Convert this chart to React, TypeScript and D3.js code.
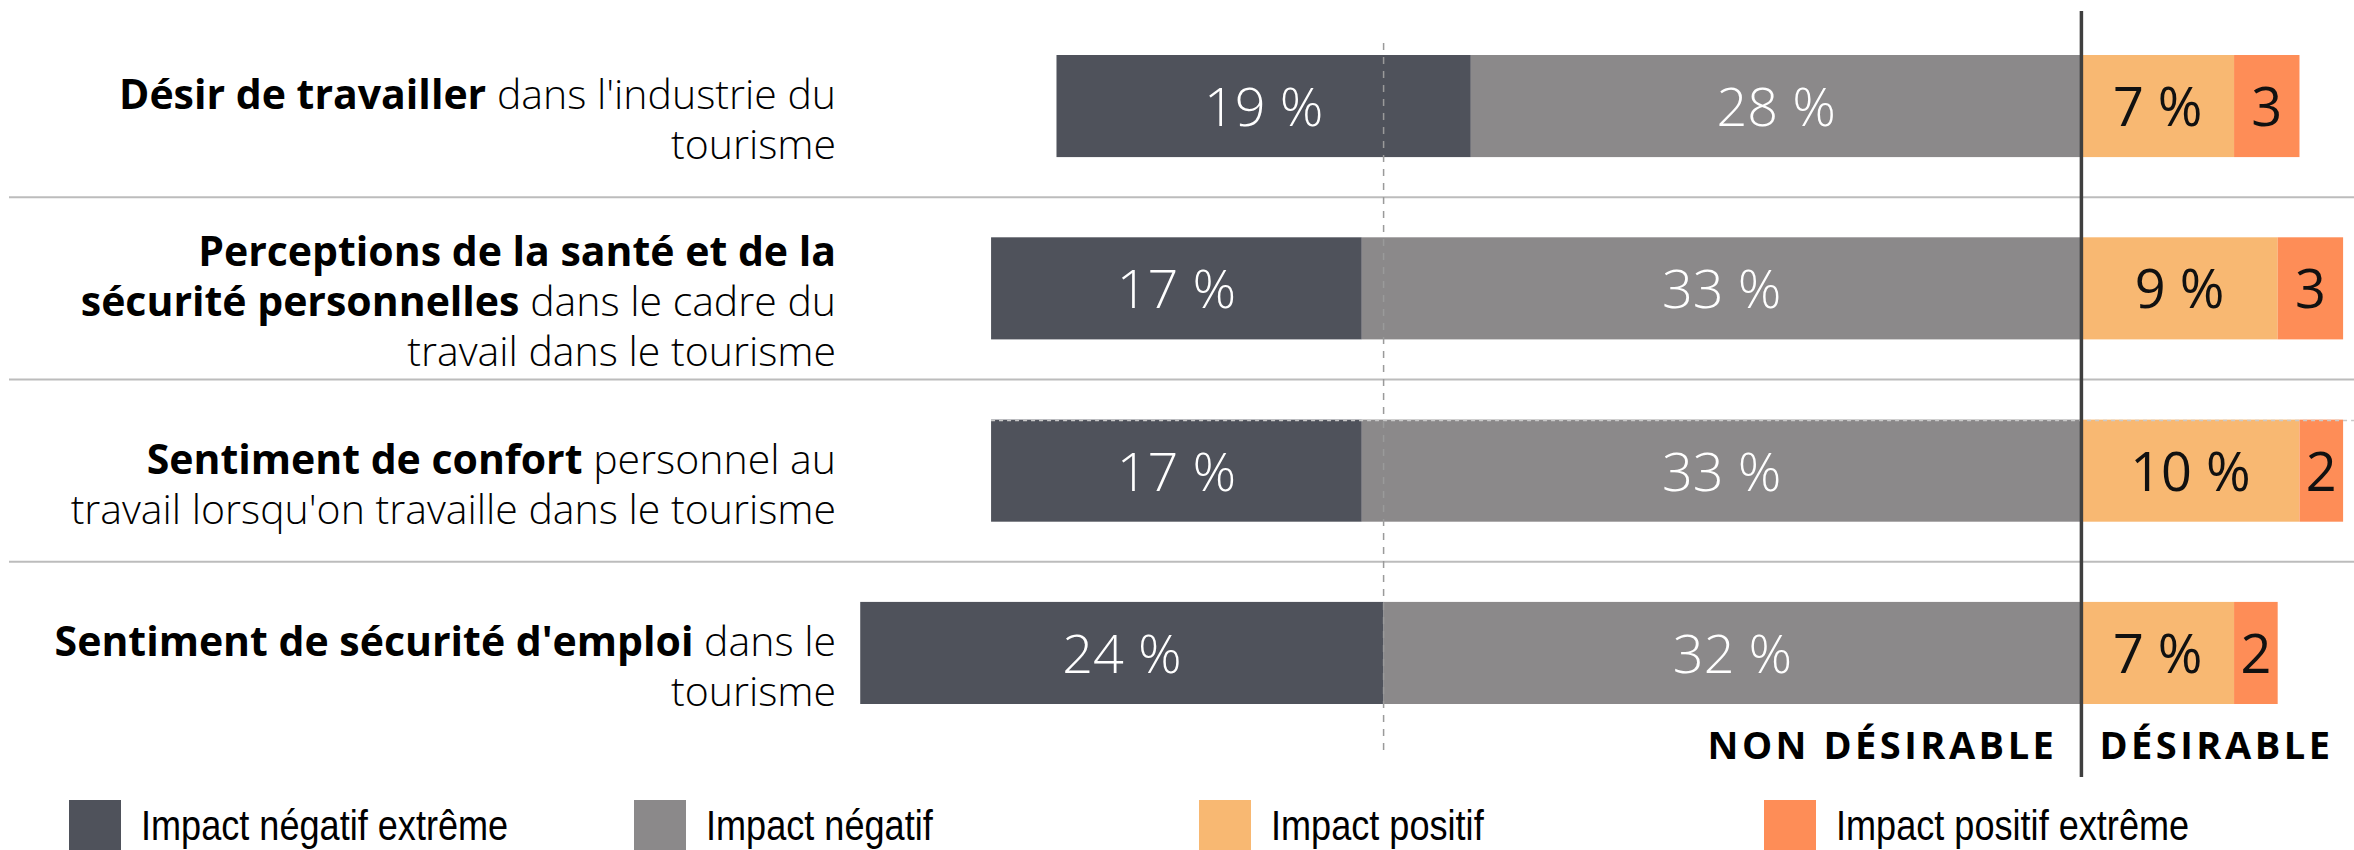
import React from "react";
import * as d3 from "d3";

// ---------- data ----------
const categories = ["desir", "sante", "confort", "emploi"];
const extremeNegative = [19, 17, 17, 24];
const negative = [28, 33, 33, 32];
const positive = [7, 9, 10, 7];
const extremePositive = [3, 3, 2, 2];
const seriesNames = [
  "Impact négatif extrême",
  "Impact négatif",
  "Impact positif",
  "Impact positif extrême",
];
// label lines: each line is a list of [text, bold]
const labelLines: [string, boolean][][][] = [
  [
    [["Désir de travailler", true], [" dans l'industrie du", false]],
    [["tourisme", false]],
  ],
  [
    [["Perceptions de la santé et de la", true]],
    [["sécurité personnelles", true], [" dans le cadre du", false]],
    [["travail dans le tourisme", false]],
  ],
  [
    [["Sentiment de confort", true], [" personnel au", false]],
    [["travail lorsqu'on travaille dans le tourisme", false]],
  ],
  [
    [["Sentiment de sécurité d'emploi", true], [" dans le", false]],
    [["tourisme", false]],
  ],
];
const sideLabels = ["NON DÉSIRABLE", "DÉSIRABLE"];
const referenceValue = -32;
const xDomain = [-60, 12.5];

// ---------- styles ----------
const W = 2354;
const H = 850;
const colors = ["#4f525b", "#8b898a", "#f8b872", "#fe8d57"];
const labelColors = ["#ffffff", "#ffffff", "#111111", "#111111"];
const labelWeights = [300, 300, 400, 400];
const FONT = "'Open Sans', 'Noto Sans', sans-serif";

export default function App() {
  const x = d3.scaleLinear().domain(xDomain).range([773, W]);
  const y = d3
    .scaleBand<string>()
    .domain(categories)
    .range([55, 704])
    .paddingInner(0.44)
    .paddingOuter(0);
  const bw = y.bandwidth();
  const x0 = x(0);

  const rows = categories.map((c, i) => {
    const en = extremeNegative[i];
    const n = negative[i];
    const p = positive[i];
    const ep = extremePositive[i];
    const segs = [
      { s: 0, a: -(n + en), b: -n, v: en, label: `${en} %` },
      { s: 1, a: -n, b: 0, v: n, label: `${n} %` },
      { s: 2, a: 0, b: p, v: p, label: `${p} %` },
      { s: 3, a: p, b: p + ep, v: ep, label: `${ep}` },
    ];
    return { c, i, segs };
  });

  const separators = categories.slice(1).map((c, i) => {
    const prev = categories[i];
    return ((y(prev) as number) + bw + (y(c) as number)) / 2;
  });

  const legendX = d3.range(seriesNames.length).map((i) => 69 + i * 565);

  return (
    <svg
      width={W}
      height={H}
      style={{ position: "absolute", left: 0, top: 0, display: "block", background: "#fff" }}
      fontFamily={FONT}
    >
      {/* separators */}
      {separators.map((sy, i) => (
        <line key={i} x1={9} x2={W} y1={sy} y2={sy} stroke="#bcbcbc" strokeWidth={2} />
      ))}

      {/* bars */}
      {rows.map((r) => {
        const top = y(r.c) as number;
        const cy = top + bw / 2;
        return (
          <g key={r.c}>
            {r.segs.map((s) => (
              <rect
                key={s.s}
                x={x(s.a)}
                y={top}
                width={x(s.b) - x(s.a)}
                height={bw}
                fill={colors[s.s]}
              />
            ))}
            {r.segs.map((s) => (
              <text
                key={"t" + s.s}
                x={(x(s.a) + x(s.b)) / 2}
                y={cy + 20}
                textAnchor="middle"
                fontSize={54}
                fontWeight={labelWeights[s.s]}
                fill={labelColors[s.s]}
              >
                {s.label}
              </text>
            ))}
          </g>
        );
      })}

      {/* dotted artifact on third bar top */}
      <line
        x1={x(-(negative[2] + extremeNegative[2]))}
        x2={W}
        y1={(y(categories[2]) as number) + 1}
        y2={(y(categories[2]) as number) + 1}
        stroke="#c9c9c9"
        strokeWidth={1.5}
        strokeDasharray="4 4"
      />

      {/* category labels */}
      {labelLines.map((lines, i) => {
        const cy = (y(categories[i]) as number) + bw / 2;
        const n = lines.length;
        const first = cy + 3 - (n - 2) * 25;
        return (
          <g key={"l" + i}>
            {lines.map((line, j) => (
              <text key={j} x={836} y={first + j * 50} textAnchor="end" fontSize={41} fill="#000">
                {line.map(([t, b], k) => (
                  <tspan key={k} fontWeight={b ? 700 : 300}>
                    {t}
                  </tspan>
                ))}
              </text>
            ))}
          </g>
        );
      })}

      {/* reference dashed line */}
      <line
        x1={x(referenceValue)}
        x2={x(referenceValue)}
        y1={43}
        y2={752}
        stroke="#9a9a9a"
        strokeWidth={1.5}
        strokeDasharray="7 7"
      />

      {/* center line */}
      <line x1={x0} x2={x0} y1={11} y2={777} stroke="#3f3f3f" strokeWidth={3.5} />

      {/* side labels */}
      <text x={x0 - 24} y={759} textAnchor="end" fontSize={38} fontWeight={700} letterSpacing={3.5} fill="#000">
        {sideLabels[0]}
      </text>
      <text x={x0 + 18} y={759} textAnchor="start" fontSize={38} fontWeight={700} letterSpacing={3.5} fill="#000">
        {sideLabels[1]}
      </text>

      {/* legend */}
      {seriesNames.map((name, i) => (
        <g key={"lg" + i}>
          <rect x={legendX[i]} y={800} width={52} height={52} fill={colors[i]} />
          <text
            transform={`translate(${legendX[i] + 72},840) scale(0.84,1)`}
            fontFamily="'Liberation Sans', Arial, sans-serif"
            fontSize={43}
            fill="#000"
          >
            {name}
          </text>
        </g>
      ))}
    </svg>
  );
}
